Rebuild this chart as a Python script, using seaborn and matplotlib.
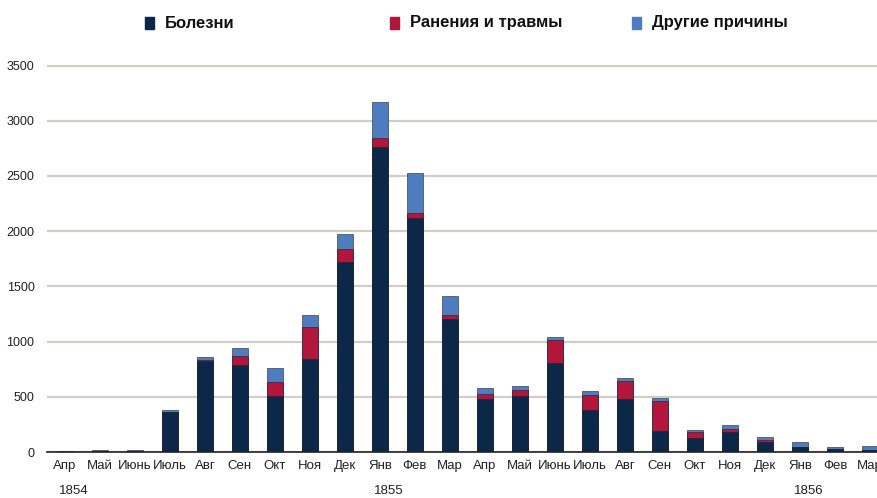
import numpy as np
import pandas as pd
import matplotlib
matplotlib.use("Agg")
import matplotlib.pyplot as plt
import seaborn as sns

# Monthly deaths, April 1854 - March 1856
periods = ["1854-04", "1854-05", "1854-06", "1854-07", "1854-08", "1854-09",
           "1854-10", "1854-11", "1854-12", "1855-01", "1855-02", "1855-03",
           "1855-04", "1855-05", "1855-06", "1855-07", "1855-08", "1855-09",
           "1855-10", "1855-11", "1855-12", "1856-01", "1856-02", "1856-03"]
month_labels = ["Апр", "Май", "Июнь", "Июль", "Авг", "Сен", "Окт", "Ноя", "Дек",
                "Янв", "Фев", "Мар", "Апр", "Май", "Июнь", "Июль", "Авг", "Сен",
                "Окт", "Ноя", "Дек", "Янв", "Фев", "Мар"]
disease = [1, 12, 11, 359, 828, 788, 503, 844, 1725, 2761, 2120, 1205,
           477, 508, 802, 382, 483, 189, 128, 178, 91, 42, 24, 15]
wounds = [0, 0, 0, 0, 1, 81, 132, 287, 114, 83, 42, 32,
          48, 49, 209, 134, 164, 276, 53, 33, 18, 2, 0, 0]
other = [5, 9, 6, 23, 30, 70, 128, 106, 131, 324, 361, 172,
         57, 37, 31, 33, 25, 20, 18, 32, 28, 48, 19, 35]
year_labels = {"1854": 0, "1855": 9, "1856": 21}
series_names = ["Болезни", "Ранения и травмы", "Другие причины"]
colors = ["#0b2848", "#b3163b", "#4f7cbf"]

df = pd.DataFrame({"period": periods, "disease": disease,
                   "wounds": wounds, "other": other})
df["dw"] = df["disease"] + df["wounds"]
df["total"] = df["dw"] + df["other"]

sns.set_theme(style="white")
plt.rcParams["font.family"] = ["Liberation Sans", "DejaVu Sans"]

fig = plt.figure(figsize=(8.78, 4.98), dpi=100)
ax = fig.add_axes([47 / 878, 46 / 498, 1 - 47 / 878, (452 - 65) / 498])

# stacked bars drawn as cumulative layers, back to front
for col, c in zip(["total", "dw", "disease"], colors[::-1]):
    sns.barplot(data=df, x="period", y=col, order=periods, color=c,
                width=0.47, saturation=1, ax=ax, edgecolor="#1a2233",
                linewidth=0.4, zorder=3)

ax.set_xlim(-0.51, 23.23)
ax.set_ylim(0, 3505)
ax.set_yticks(np.arange(0, 3501, 500))
ax.yaxis.grid(True, color="#d2cdc4", linewidth=1.6, zorder=0)
ax.xaxis.grid(False)
ax.set_axisbelow(True)
for s in ["top", "right", "left"]:
    ax.spines[s].set_visible(False)
ax.spines["bottom"].set_color("#222222")
ax.spines["bottom"].set_linewidth(1.2)
ax.spines["bottom"].set_zorder(4)
ax.set_xlabel("")
ax.set_ylabel("")
ax.set_xticks(range(len(periods)))
ax.set_xticklabels(month_labels, fontsize=9.5, color="#222222")
ax.tick_params(axis="x", length=0, pad=6)
ax.tick_params(axis="y", length=0, pad=9, labelsize=9, labelcolor="#222222")

for yr, i in year_labels.items():
    ax.text(i + 0.25, -0.1, yr, transform=ax.get_xaxis_transform(),
            ha="center", va="center", fontsize=9.5, color="#222222")

# legend row across the top
legend_x = [145, 390, 632]
for name, c, lx in zip(series_names, colors, legend_x):
    fig.patches.append(plt.Rectangle((lx / 878, 1 - 29 / 498), 9 / 878, 12 / 498,
                                     transform=fig.transFigure, color=c))
    fig.text((lx + 20) / 878, 1 - 23 / 498, name, ha="left", va="center",
             fontsize=12, fontweight="bold", color="#111111")

fig.savefig("out.png", dpi=100)
